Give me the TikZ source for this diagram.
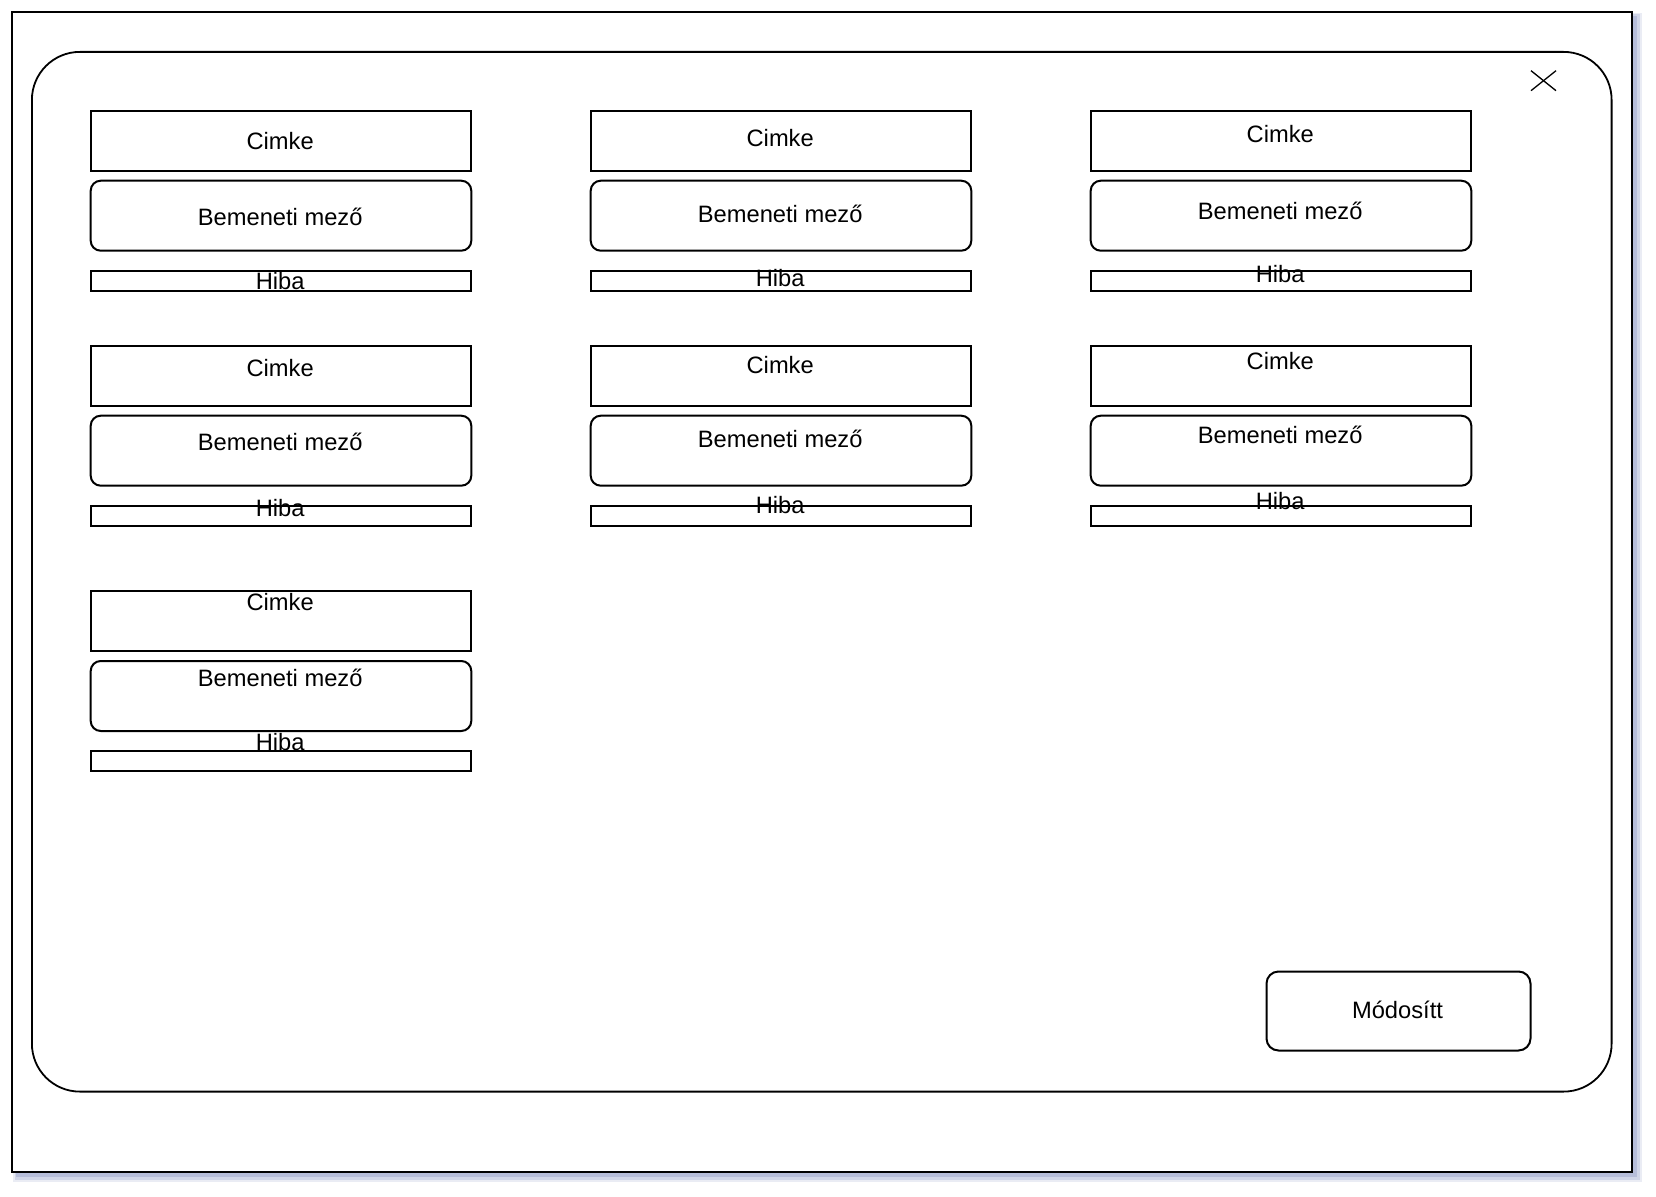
\documentclass[tikz,border=0pt]{standalone}
\usepackage{fontspec}
\setmainfont{Liberation Sans}
\definecolor{shadowc}{RGB}{150,160,200}
\begin{document}
\begin{tikzpicture}[x=1pt,y=-1pt,
  box/.style={draw=black,line width=2pt,fill=white,minimum width=380.6pt,inner sep=0pt,outer sep=0pt,anchor=north west},
  lblbox/.style={box,minimum height=60pt},
  inpbox/.style={box,minimum height=70pt,rounded corners=10pt},
  errbox/.style={box,minimum height=20pt},
  txt/.style={anchor=base,inner sep=0pt,font=\fontsize{23.7}{28}\selectfont}]
\useasboundingbox (0,0) rectangle (1656,1196);
% shadow of the outer frame
\fill[shadowc,opacity=0.2] (13,13) rectangle (1642,1182);
\fill[shadowc,opacity=0.3] (14.5,14.5) rectangle (1639.5,1179.5);
\fill[shadowc,opacity=0.45] (16,16) rectangle (1637,1177);
% outer frame
\node[draw,line width=2.2pt,fill=white,anchor=north west,minimum width=1620pt,minimum height=1160pt,inner sep=0pt] (outer) at (10.7,10.7) {};
% dialog panel
\node[draw,line width=1.8pt,rounded corners=48pt,anchor=north west,minimum width=1579.7pt,minimum height=1039.7pt,inner sep=0pt] (panel) at (31,51) {};
% close cross
\coordinate (xa) at (1531,70.7);
\coordinate (xb) at (1556,90.7);
\coordinate (xc) at (1531,90.7);
\coordinate (xd) at (1556,70.7);
\draw[line width=1.3pt] (xa) -- (xb);
\draw[line width=1.3pt] (xc) -- (xd);
% field groups: rows 1 and 2, three columns
\foreach \r/\T/\oa/\ob/\oc in {1/110.7/38.6/115/178.3, 2/345.7/30.3/104.3/170.3}{
  \foreach \c/\cx/\dt in {1/90.7/0, 2/590.7/-3, 3/1090.7/-6.5}{
    \node[lblbox] (cimke-\r-\c) at (\cx,\T) {};
    \node[inpbox] (mezo-\r-\c) at (\cx,{\T+70}) {};
    \node[errbox] (hiba-\r-\c) at (\cx,{\T+160}) {};
    \node[txt] (tcimke-\r-\c) at ({\cx+189.5},{\T+\oa+\dt}) {Cimke};
    \node[txt] (tmezo-\r-\c) at ({\cx+189.5},{\T+\ob+\dt}) {Bemeneti mező};
    \node[txt] (thiba-\r-\c) at ({\cx+189.5},{\T+\oc+\dt}) {Hiba};
  }
}
% row 3, column 1
\node[lblbox] (cimke-3-1) at (90.7,591) {};
\node[inpbox] (mezo-3-1) at (90.7,661) {};
\node[errbox] (hiba-3-1) at (90.7,751) {};
\node[txt] (tcimke-3-1) at (280.2,610.7) {Cimke};
\node[txt] (tmezo-3-1) at (280.2,686.7) {Bemeneti mező};
\node[txt] (thiba-3-1) at (280.2,750) {Hiba};
% button
\node[draw,line width=2pt,rounded corners=12pt,anchor=north west,minimum width=264pt,minimum height=79pt,inner sep=0pt] (button) at (1265.5,970.5) {};
\node[txt] (tbutton) at (1397.5,1018.5) {Módosítt};
\end{tikzpicture}
\end{document}
